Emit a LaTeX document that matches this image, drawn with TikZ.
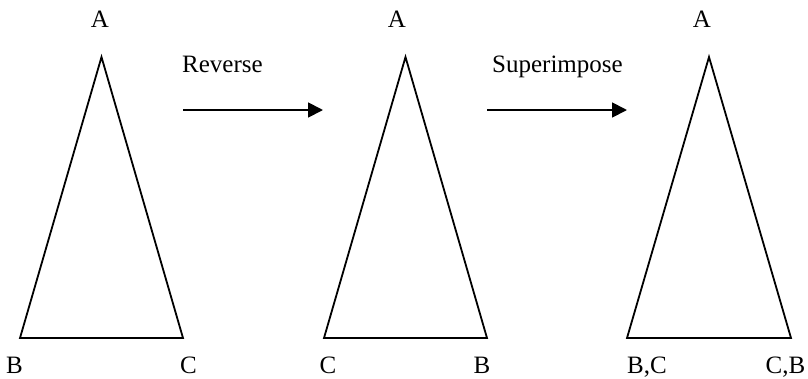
\documentclass[tikz,border=0pt]{standalone}
\usepackage{fontspec}
\setmainfont{Liberation Serif}
\usetikzlibrary{arrows.meta}
\begin{document}
\begin{tikzpicture}[x=1pt,y=-1pt,
  lbl/.style={inner sep=0pt,anchor=base,font=\fontsize{25}{30}\selectfont},
  tri/.style={line width=1.8pt,line join=miter},
  arr/.style={line width=1.8pt,-{Triangle[length=15pt,width=15pt]}}]
\useasboundingbox (0,0) rectangle (808,378);
% triangle 1
\coordinate (a1) at (101.5,57);
\coordinate (b1) at (20,338);
\coordinate (c1) at (183,338);
\draw[tri] (a1) -- (b1) -- (c1) -- cycle;
\node[lbl] (ta1) at (100,27) {A};
\node[lbl] (tb1) at (14.5,373) {B};
\node[lbl] (tc1) at (188.5,373) {C};
% triangle 2
\coordinate (a2) at (405.5,57);
\coordinate (b2) at (324,338);
\coordinate (c2) at (487,338);
\draw[tri] (a2) -- (b2) -- (c2) -- cycle;
\node[lbl] (ta2) at (397,27) {A};
\node[lbl] (tb2) at (328,373) {C};
\node[lbl] (tc2) at (482,373) {B};
% triangle 3
\coordinate (a3) at (709,57);
\coordinate (b3) at (627,338);
\coordinate (c3) at (791,338);
\draw[tri] (a3) -- (b3) -- (c3) -- cycle;
\node[lbl] (ta3) at (702,27) {A};
\node[lbl] (tb3) at (647,373) {B,C};
\node[lbl] (tc3) at (785.5,373) {C,B};
% arrows
\coordinate (s1) at (183,110);
\coordinate (e1) at (323,110);
\coordinate (s2) at (487,110);
\coordinate (e2) at (627,110);
\draw[arr] (s1) -- (e1);
\draw[arr] (s2) -- (e2);
\node[lbl,anchor=base west] (rev) at (182,72) {Reverse};
\node[lbl,anchor=base west] (sup) at (492,72) {Superimpose};
\end{tikzpicture}
\end{document}
